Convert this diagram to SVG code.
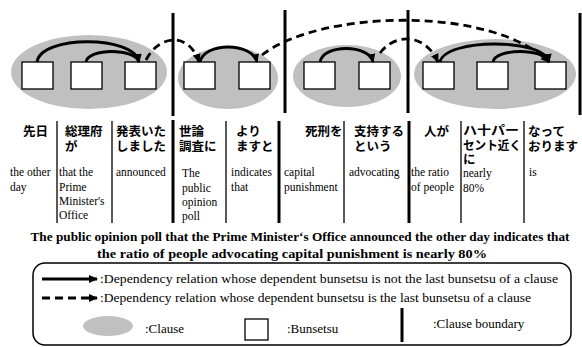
<svg xmlns="http://www.w3.org/2000/svg" width="582" height="347" viewBox="0 0 582 347">
<style>
.cl{fill:#c0c0c0;stroke:none}
.bx{fill:#fff;stroke:#000;stroke-width:1.3}
.sol{fill:none;stroke:#000;stroke-width:2.8}
.dsh{fill:none;stroke:#000;stroke-width:2.8;stroke-dasharray:8 5}
.bd{stroke:#000;stroke-width:3}
.sep{stroke:#000;stroke-width:1.3}
.jp{font-family:"Noto Sans CJK JP","Noto Sans",sans-serif;font-size:12.5px;font-weight:bold;fill:#000}
.en{font-family:"Liberation Serif",serif;font-size:11.5px;fill:#000}
.tt{font-family:"Liberation Serif",serif;font-size:12.5px;font-weight:bold;fill:#000}
.lg{font-family:"Liberation Serif",serif;font-size:13px;fill:#000}
</style>
<defs>
<marker id="ah" markerUnits="userSpaceOnUse" markerWidth="10" markerHeight="10" refX="8" refY="5" orient="auto">
<path d="M0,1 L9,5 L0,9 z" fill="#000"/>
</marker>
</defs>

<g id="clauses">
<ellipse id="clause1" class="cl" cx="89" cy="72" rx="78" ry="37"/>
<ellipse id="clause2" class="cl" cx="228" cy="78" rx="50" ry="31"/>
<ellipse id="clause3" class="cl" cx="347" cy="76" rx="54" ry="31"/>
<ellipse id="clause4" class="cl" cx="495" cy="74" rx="81" ry="35"/>
</g>

<g id="boundaries">
<line class="bd" x1="173" y1="13" x2="173" y2="116"/>
<line class="bd" x1="285" y1="10" x2="285" y2="113"/>
<line class="bd" x1="408" y1="10" x2="408" y2="113"/>
<line class="bd" x1="580" y1="13" x2="580" y2="115"/>
<line class="bd" x1="173" y1="120" x2="173" y2="223"/>
<line class="bd" x1="279" y1="121" x2="279" y2="223"/>
<line class="bd" x1="409" y1="121" x2="409" y2="223"/>
<line class="sep" x1="57" y1="121" x2="57" y2="223"/>
<line class="sep" x1="112" y1="121" x2="112" y2="223"/>
<line class="sep" x1="226" y1="121" x2="226" y2="223"/>
<line class="sep" x1="344" y1="121" x2="344" y2="223"/>
<line class="sep" x1="461" y1="121" x2="461" y2="223"/>
<line class="sep" x1="524" y1="121" x2="524" y2="223"/>
</g>

<g id="b1"><rect class="bx" x="22" y="62" width="31" height="27"/></g>
<g id="b2"><rect class="bx" x="71" y="62" width="31" height="27"/></g>
<g id="b3"><rect class="bx" x="125" y="62" width="31" height="27"/></g>
<g id="b4"><rect class="bx" x="184" y="62" width="31" height="27"/></g>
<g id="b5"><rect class="bx" x="239" y="62" width="31" height="27"/></g>
<g id="b6"><rect class="bx" x="304" y="62" width="31" height="27"/></g>
<g id="b7"><rect class="bx" x="359" y="62" width="31" height="27"/></g>
<g id="b8"><rect class="bx" x="423" y="62" width="31" height="27"/></g>
<g id="b9"><rect class="bx" x="477" y="62" width="31" height="27"/></g>
<g id="b10"><rect class="bx" x="535" y="62" width="31" height="27"/></g>

<g id="connectors">
<path class="sol" d="M37,62 C40,35 135,35 139,62" marker-end="url(#ah)"/>
<path class="sol" d="M86,62 C88,48 135,48 139,62" marker-end="url(#ah)"/>
<path class="dsh" d="M146,60 C160,33 190,33 199,62" marker-end="url(#ah)"/>
<path class="sol" d="M200,62 C204,42 252,42 257,62" marker-end="url(#ah)"/>
<path class="dsh" d="M262,55 C320,10 490,5 549,62" marker-end="url(#ah)"/>
<path class="sol" d="M320,62 C323,44 369,44 373,62" marker-end="url(#ah)"/>
<path class="dsh" d="M380,53 C395,33 425,33 438,62" marker-end="url(#ah)"/>
<path class="sol" d="M440,62 C445,38 545,38 549,62" marker-end="url(#ah)"/>
<path class="sol" d="M493,62 C495,48 545,48 549,62" marker-end="url(#ah)"/>
</g>

<g id="words">
<text class="jp" x="23" y="136">先日</text>
<text class="jp" x="65" y="136">総理府</text>
<text class="jp" x="65" y="151">が</text>
<text class="jp" x="116" y="136">発表いた</text>
<text class="jp" x="116" y="151">しました</text>
<text class="jp" x="179" y="136">世論</text>
<text class="jp" x="179" y="151">調査に</text>
<text class="jp" x="236" y="136">より</text>
<text class="jp" x="236" y="151">ますと</text>
<text class="jp" x="305" y="136">死刑を</text>
<text class="jp" x="354" y="136">支持する</text>
<text class="jp" x="354" y="151">という</text>
<text class="jp" x="424" y="136">人が</text>
<text class="jp" x="463" y="135" textLength="56" lengthAdjust="spacingAndGlyphs">ハ十パー</text>
<text class="jp" x="463" y="150" textLength="58" lengthAdjust="spacingAndGlyphs">セント近く</text>
<text class="jp" x="463" y="164" font-size="10">に</text>
<text class="jp" x="528" y="136">なって</text>
<text class="jp" x="528" y="151">おります</text>

<text class="en" x="10" y="176">the other</text>
<text class="en" x="10" y="191">day</text>
<text class="en" x="59" y="176">that the</text>
<text class="en" x="59" y="191">Prime</text>
<text class="en" x="59" y="205">Minister's</text>
<text class="en" x="59" y="219">Office</text>
<text class="en" x="116" y="176">announced</text>
<text class="en" x="182" y="177">The</text>
<text class="en" x="182" y="192">public</text>
<text class="en" x="182" y="206">opinion</text>
<text class="en" x="182" y="220">poll</text>
<text class="en" x="231" y="176">indicates</text>
<text class="en" x="231" y="191">that</text>
<text class="en" x="284" y="176">capital</text>
<text class="en" x="284" y="191">punishment</text>
<text class="en" x="349" y="176">advocating</text>
<text class="en" x="411" y="176">the ratio</text>
<text class="en" x="411" y="191">of people</text>
<text class="en" x="463" y="177">nearly</text>
<text class="en" x="463" y="192">80%</text>
<text class="en" x="529" y="176">is</text>
</g>

<g id="caption">
<text class="tt" x="300" y="241" text-anchor="middle" textLength="539" lengthAdjust="spacingAndGlyphs">The public opinion poll that the Prime Minister‘s Office announced the other day indicates that</text>
<text class="tt" x="292" y="258" text-anchor="middle" textLength="390" lengthAdjust="spacingAndGlyphs">the ratio of people advocating capital punishment is nearly 80%</text>
</g>

<g id="legend">
<rect x="33" y="263" width="538" height="82" rx="12" ry="12" fill="none" stroke="#000" stroke-width="1.5"/>
<line class="sol" x1="42" y1="279" x2="97" y2="279" marker-end="url(#ah)"/>
<text class="lg" x="100" y="283" textLength="458" lengthAdjust="spacingAndGlyphs">:Dependency relation whose dependent bunsetsu is not the last bunsetsu of a clause</text>
<line class="dsh" x1="42" y1="298" x2="97" y2="298" stroke-dasharray="10 5" marker-end="url(#ah)"/>
<text class="lg" x="100" y="302" textLength="431" lengthAdjust="spacingAndGlyphs">:Dependency relation whose dependent bunsetsu is the last bunsetsu of a clause</text>
<ellipse class="cl" cx="108" cy="326" rx="25" ry="10"/>
<text class="lg" x="145" y="333">:Clause</text>
<rect class="bx" x="245" y="319" width="23" height="21"/>
<text class="lg" x="287" y="333">:Bunsetsu</text>
<line class="bd" x1="402" y1="308" x2="402" y2="342"/>
<text class="lg" x="433" y="328">:Clause boundary</text>
</g>
</svg>
